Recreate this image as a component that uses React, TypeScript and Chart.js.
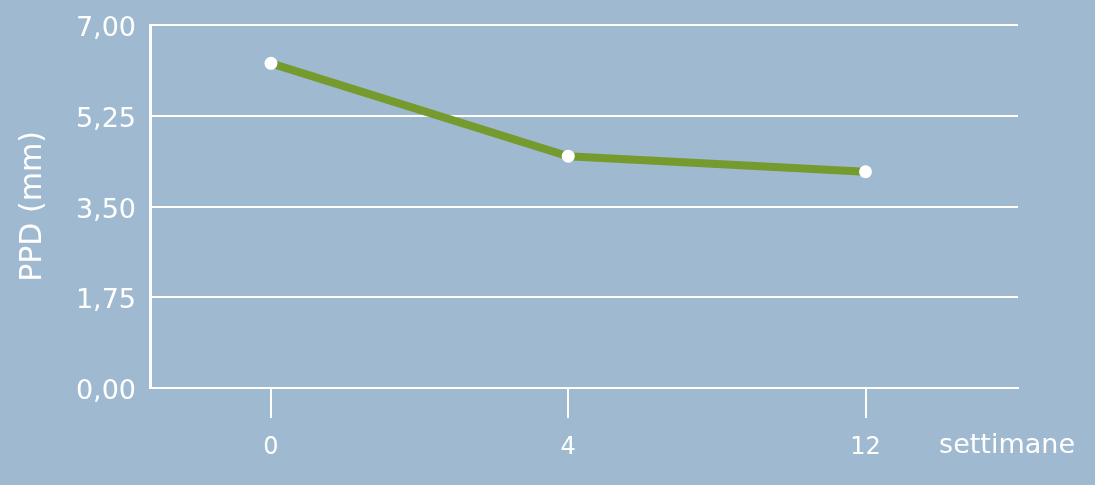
import { useEffect, useRef } from 'react';
import { Chart, registerables } from 'chart.js';

Chart.register(...registerables);

const weeks = ['0', '4', '12'];
const ppd = [6.26, 4.47, 4.17];
const yTicks = [0, 1.75, 3.5, 5.25, 7];

const BG = '#9fbad0';
const GREEN = '#759a2e';
const FONT = "'DejaVu Sans', sans-serif";

// "settimane" sits to the right of the last x label, outside the plot area
const unitLabel = {
  id: 'unitLabel',
  afterDraw(chart: Chart) {
    const { ctx, chartArea } = chart;
    ctx.save();
    ctx.fillStyle = '#ffffff';
    ctx.font = `27px ${FONT}`;
    ctx.textAlign = 'right';
    ctx.textBaseline = 'alphabetic';
    ctx.fillText('settimane', chartArea.right + 57, 453);
    ctx.restore();
  },
};

export default function App() {
  const canvasRef = useRef<HTMLCanvasElement>(null);

  useEffect(() => {
    if (!canvasRef.current) return;
    const ctx = canvasRef.current.getContext('2d');
    if (!ctx) return;

    const chart = new Chart(ctx, {
      type: 'line',
      data: {
        datasets: [{
          data: ppd.map((v, i) => ({ x: i, y: v })),
          borderColor: GREEN,
          borderWidth: 8,
          pointRadius: 6.5,
          pointHoverRadius: 6.5,
          pointBackgroundColor: '#ffffff',
          pointBorderWidth: 0,
          tension: 0,
        }],
      },
      options: {
        animation: false,
        responsive: false,
        devicePixelRatio: 1,
        layout: { padding: { left: 0, right: 77, top: 25, bottom: 0 } },
        plugins: { legend: { display: false }, tooltip: { enabled: false } },
        scales: {
          x: {
            type: 'linear',
            min: -0.407,
            max: 2.513,
            afterBuildTicks: (s: any) => { s.ticks = weeks.map((_, i) => ({ value: i })); },
            afterFit: (s: any) => { s.height = 97; },
            grid: { drawOnChartArea: false, drawTicks: true, tickLength: 30, color: '#ffffff', lineWidth: 2 },
            border: { display: true, color: '#ffffff', width: 2 },
            ticks: {
              color: '#ffffff',
              font: { family: FONT, size: 24 },
              padding: 15,
              maxRotation: 0,
              callback: (v: any) => weeks[Math.round(Number(v))] ?? '',
            },
          },
          y: {
            min: 0,
            max: 7,
            afterBuildTicks: (s: any) => { s.ticks = yTicks.map(v => ({ value: v })); },
            afterFit: (s: any) => { s.width = 150; s.paddingTop = 0; s.paddingBottom = 0; },
            grid: { color: '#ffffff', lineWidth: 2, drawTicks: false },
            border: { display: true, color: '#ffffff', width: 3 },
            ticks: {
              color: '#ffffff',
              font: { family: FONT, size: 27 },
              padding: 14,
              labelOffset: 4,
              callback: (v: any) => Number(v).toFixed(2).replace('.', ','),
            },
            title: {
              display: true,
              text: 'PPD (mm)',
              color: '#ffffff',
              font: { family: FONT, size: 30 },
              padding: { top: 15, bottom: 0 },
            },
          },
        },
      },
      plugins: [unitLabel],
    });

    return () => chart.destroy();
  }, []);

  return (
    <div style={{ position: 'fixed', left: 0, top: 0, width: 1095, height: 485, background: BG }}>
      <canvas ref={canvasRef} width="1095" height="485" />
    </div>
  );
}
